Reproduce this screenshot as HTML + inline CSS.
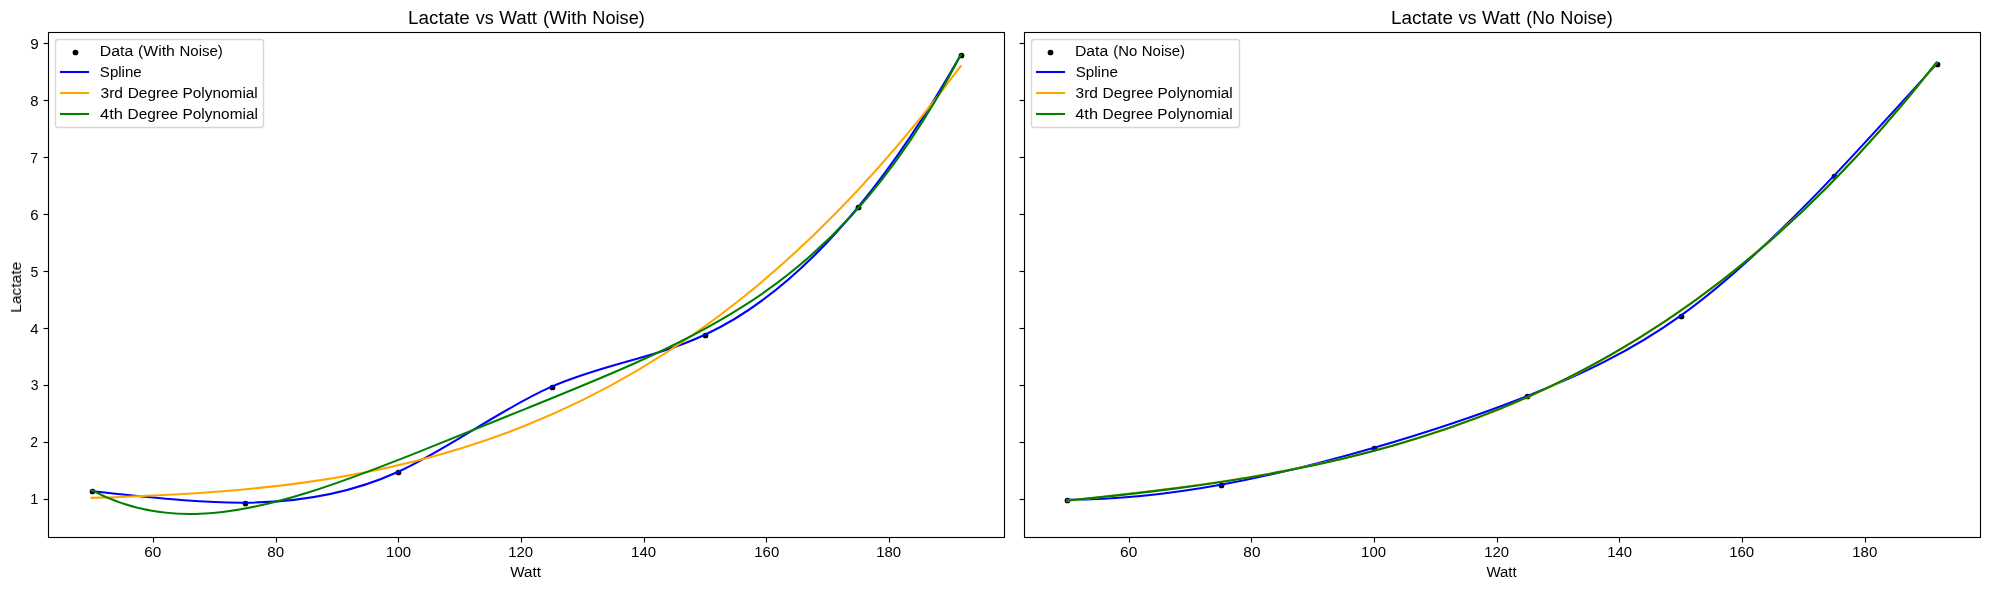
<!DOCTYPE html>
<html lang="en">
<head>
<meta charset="utf-8">
<title>Lactate vs Watt</title>
<style>
html,body{margin:0;padding:0;background:#fff;}
body{width:1990px;height:590px;overflow:hidden;}
svg{display:block;will-change:transform;}
svg text{font-family:"Liberation Sans",sans-serif;fill:#000;white-space:pre;}
svg g.t{filter:grayscale(1);}
</style>
</head>
<body>
<svg width="1990" height="590" viewBox="0 0 1990 590">
<rect width="1990" height="590" fill="#fff"/>
<g>
<g fill="#000">
<circle cx="92.5" cy="491.5" r="2.87"/>
<circle cx="245.5" cy="503.5" r="2.87"/>
<circle cx="398.5" cy="472.5" r="2.87"/>
<circle cx="552.5" cy="387.5" r="2.87"/>
<circle cx="705.5" cy="335.5" r="2.87"/>
<circle cx="858.5" cy="207.5" r="2.87"/>
<circle cx="961.5" cy="55.5" r="2.87"/>
</g>
<g fill="none" stroke-width="2.083" stroke-linecap="square" stroke-linejoin="round">
<path stroke="#0000ff" d="M91.60 491.33C142.72 496.27 193.83 503.02 244.94 502.71C296.05 502.40 347.16 495.03 398.27 471.70C449.38 448.37 500.49 409.09 551.60 386.63C602.71 364.16 653.83 358.49 704.94 334.73C756.05 310.96 807.16 269.09 858.27 207.03C892.41 165.58 926.55 115.12 960.70 55.04"/>
<path stroke="#ffa500" d="M91.60 497.85C381.30 489.79 671.00 456.24 960.70 66.09"/>
<path stroke="#008000" d="M91.60 490.15C127.82 509.57 164.03 515.28 200.24 513.80C236.45 512.31 272.67 503.64 308.88 492.25C345.09 480.86 381.30 466.76 417.51 452.36C453.73 437.96 489.94 423.26 526.15 408.63C562.36 394.00 598.57 379.45 634.79 363.29C671.00 347.12 707.21 329.35 743.42 306.23C779.63 283.11 815.85 254.65 852.06 215.05C888.27 175.46 924.48 124.74 960.70 55.05"/>
</g>
<g stroke="#000" stroke-width="1.111">
<line x1="153.5" y1="537.5" x2="153.5" y2="542.50"/>
<line x1="276.5" y1="537.5" x2="276.5" y2="542.50"/>
<line x1="398.5" y1="537.5" x2="398.5" y2="542.50"/>
<line x1="521.5" y1="537.5" x2="521.5" y2="542.50"/>
<line x1="644.5" y1="537.5" x2="644.5" y2="542.50"/>
<line x1="766.5" y1="537.5" x2="766.5" y2="542.50"/>
<line x1="889.5" y1="537.5" x2="889.5" y2="542.50"/>
<line x1="43.50" y1="43.5" x2="48.5" y2="43.5"/>
<line x1="43.50" y1="100.5" x2="48.5" y2="100.5"/>
<line x1="43.50" y1="157.5" x2="48.5" y2="157.5"/>
<line x1="43.50" y1="214.5" x2="48.5" y2="214.5"/>
<line x1="43.50" y1="271.5" x2="48.5" y2="271.5"/>
<line x1="43.50" y1="328.5" x2="48.5" y2="328.5"/>
<line x1="43.50" y1="385.5" x2="48.5" y2="385.5"/>
<line x1="43.50" y1="442.5" x2="48.5" y2="442.5"/>
<line x1="43.50" y1="499.5" x2="48.5" y2="499.5"/>
</g>
<rect x="48.5" y="32.5" width="956.0" height="505.0" fill="none" stroke="#000" stroke-width="1.111"/>
<g class="t">
<text font-size="14.70" x="144.29" y="557.00" textLength="17.07" lengthAdjust="spacingAndGlyphs">60</text>
<text font-size="14.70" x="267.34" y="557.00" textLength="16.87" lengthAdjust="spacingAndGlyphs">80</text>
<text font-size="14.70" x="386.12" y="557.00" textLength="24.96" lengthAdjust="spacingAndGlyphs">100</text>
<text font-size="14.70" x="508.22" y="557.00" textLength="24.89" lengthAdjust="spacingAndGlyphs">120</text>
<text font-size="14.70" x="631.11" y="557.00" textLength="25.01" lengthAdjust="spacingAndGlyphs">140</text>
<text font-size="14.70" x="754.29" y="557.00" textLength="24.98" lengthAdjust="spacingAndGlyphs">160</text>
<text font-size="14.70" x="876.20" y="557.00" textLength="24.93" lengthAdjust="spacingAndGlyphs">180</text>
<text font-size="14.70" x="30.23" y="48.55" textLength="8.47" lengthAdjust="spacingAndGlyphs">9</text>
<text font-size="14.70" x="30.37" y="105.55" textLength="8.22" lengthAdjust="spacingAndGlyphs">8</text>
<text font-size="14.70" x="30.31" y="162.55" textLength="7.83" lengthAdjust="spacingAndGlyphs">7</text>
<text font-size="14.70" x="30.31" y="219.55" textLength="8.35" lengthAdjust="spacingAndGlyphs">6</text>
<text font-size="14.70" x="30.56" y="276.55" textLength="7.82" lengthAdjust="spacingAndGlyphs">5</text>
<text font-size="14.70" x="30.22" y="333.55" textLength="8.35" lengthAdjust="spacingAndGlyphs">4</text>
<text font-size="14.70" x="30.66" y="389.55" textLength="7.80" lengthAdjust="spacingAndGlyphs">3</text>
<text font-size="14.70" x="30.32" y="446.55" textLength="7.80" lengthAdjust="spacingAndGlyphs">2</text>
<text font-size="14.70" x="30.33" y="503.55" textLength="8.05" lengthAdjust="spacingAndGlyphs">1</text>
<text font-size="17.65" y="24.00"><tspan x="408.10" textLength="61.75" lengthAdjust="spacingAndGlyphs">Lactate</tspan> <tspan x="475.65" textLength="18.00" lengthAdjust="spacingAndGlyphs">vs</tspan> <tspan x="499.22" textLength="37.85" lengthAdjust="spacingAndGlyphs">Watt</tspan> <tspan x="543.04" textLength="43.83" lengthAdjust="spacingAndGlyphs">(With</tspan> <tspan x="592.26" textLength="52.57" lengthAdjust="spacingAndGlyphs">Noise)</tspan></text>
<text font-size="14.70" x="510.28" y="577.00" textLength="30.68" lengthAdjust="spacingAndGlyphs">Watt</text>
<text font-size="14.70" transform="translate(21.00 310.59) rotate(-90)" x="-2.28" y="0.00" textLength="51.22" lengthAdjust="spacingAndGlyphs">Lactate</text>
</g>
<rect x="55.5" y="39.5" width="208" height="88" rx="2.78" fill="#fff" fill-opacity=".8" stroke="#ccc" stroke-opacity=".8" stroke-width="1.389"/>
<circle cx="75.5" cy="52.5" r="2.87" fill="#000"/>
<g fill="none" stroke-width="2.083">
<line x1="59.96" y1="72.00" x2="89.04" y2="72.00" stroke="#0000ff"/>
<line x1="59.96" y1="93.00" x2="89.04" y2="93.00" stroke="#ffa500"/>
<line x1="59.96" y1="114.00" x2="89.04" y2="114.00" stroke="#008000"/>
</g>
<g class="t">
<text font-size="14.70" y="56.00"><tspan x="99.84" textLength="33.49" lengthAdjust="spacingAndGlyphs">Data</tspan> <tspan x="138.12" textLength="36.78" lengthAdjust="spacingAndGlyphs">(With</tspan> <tspan x="179.47" textLength="43.42" lengthAdjust="spacingAndGlyphs">Noise)</tspan></text>
<text font-size="14.70" x="99.87" y="77.00" textLength="41.85" lengthAdjust="spacingAndGlyphs">Spline</text>
<text font-size="14.70" y="98.00"><tspan x="100.51" textLength="22.47" lengthAdjust="spacingAndGlyphs">3rd</tspan> <tspan x="127.71" textLength="50.52" lengthAdjust="spacingAndGlyphs">Degree</tspan> <tspan x="182.50" textLength="75.28" lengthAdjust="spacingAndGlyphs">Polynomial</tspan></text>
<text font-size="14.70" y="119.00"><tspan x="100.13" textLength="22.92" lengthAdjust="spacingAndGlyphs">4th</tspan> <tspan x="127.54" textLength="50.53" lengthAdjust="spacingAndGlyphs">Degree</tspan> <tspan x="182.52" textLength="75.37" lengthAdjust="spacingAndGlyphs">Polynomial</tspan></text>
</g>
</g>
<g>
<g fill="#000">
<circle cx="1067.5" cy="500.5" r="2.87"/>
<circle cx="1221.5" cy="485.5" r="2.87"/>
<circle cx="1374.5" cy="448.5" r="2.87"/>
<circle cx="1527.5" cy="396.5" r="2.87"/>
<circle cx="1681.5" cy="316.5" r="2.87"/>
<circle cx="1834.5" cy="176.5" r="2.87"/>
<circle cx="1937.5" cy="64.5" r="2.87"/>
</g>
<g fill="none" stroke-width="2.083" stroke-linecap="square" stroke-linejoin="round">
<path stroke="#0000ff" d="M1067.46 499.81C1118.57 499.59 1169.68 493.97 1220.80 484.70C1271.91 475.43 1323.02 462.51 1374.13 447.69C1425.24 432.86 1476.35 416.13 1527.46 395.96C1578.57 375.78 1629.68 352.16 1680.79 315.61C1731.90 279.05 1783.01 229.56 1834.12 175.62C1868.26 139.58 1902.40 101.56 1936.55 64.08"/>
<path stroke="#ffa500" d="M1067.46 500.64C1357.16 469.27 1646.85 431.55 1936.55 62.65"/>
<path stroke="#008000" d="M1067.46 500.49C1103.68 496.97 1139.89 493.09 1176.10 488.36C1212.31 483.62 1248.52 478.03 1284.73 471.06C1320.95 464.08 1357.16 455.71 1393.37 445.38C1429.58 435.05 1465.79 422.76 1502.01 407.89C1538.22 393.03 1574.43 375.58 1610.64 354.91C1646.85 334.23 1683.06 310.32 1719.28 282.49C1755.49 254.65 1791.70 222.89 1827.91 186.47C1864.12 150.05 1900.33 108.96 1936.55 62.43"/>
</g>
<g stroke="#000" stroke-width="1.111">
<line x1="1129.5" y1="537.5" x2="1129.5" y2="542.50"/>
<line x1="1251.5" y1="537.5" x2="1251.5" y2="542.50"/>
<line x1="1374.5" y1="537.5" x2="1374.5" y2="542.50"/>
<line x1="1497.5" y1="537.5" x2="1497.5" y2="542.50"/>
<line x1="1619.5" y1="537.5" x2="1619.5" y2="542.50"/>
<line x1="1742.5" y1="537.5" x2="1742.5" y2="542.50"/>
<line x1="1865.5" y1="537.5" x2="1865.5" y2="542.50"/>
<line x1="1019.50" y1="43.5" x2="1024.5" y2="43.5"/>
<line x1="1019.50" y1="100.5" x2="1024.5" y2="100.5"/>
<line x1="1019.50" y1="157.5" x2="1024.5" y2="157.5"/>
<line x1="1019.50" y1="214.5" x2="1024.5" y2="214.5"/>
<line x1="1019.50" y1="271.5" x2="1024.5" y2="271.5"/>
<line x1="1019.50" y1="328.5" x2="1024.5" y2="328.5"/>
<line x1="1019.50" y1="385.5" x2="1024.5" y2="385.5"/>
<line x1="1019.50" y1="442.5" x2="1024.5" y2="442.5"/>
<line x1="1019.50" y1="499.5" x2="1024.5" y2="499.5"/>
</g>
<rect x="1024.5" y="32.5" width="956.0" height="505.0" fill="none" stroke="#000" stroke-width="1.111"/>
<g class="t">
<text font-size="14.70" x="1120.13" y="557.00" textLength="17.29" lengthAdjust="spacingAndGlyphs">60</text>
<text font-size="14.70" x="1243.33" y="557.00" textLength="17.11" lengthAdjust="spacingAndGlyphs">80</text>
<text font-size="14.70" x="1361.12" y="557.00" textLength="25.00" lengthAdjust="spacingAndGlyphs">100</text>
<text font-size="14.70" x="1484.27" y="557.00" textLength="24.81" lengthAdjust="spacingAndGlyphs">120</text>
<text font-size="14.70" x="1607.28" y="557.00" textLength="24.79" lengthAdjust="spacingAndGlyphs">140</text>
<text font-size="14.70" x="1729.17" y="557.00" textLength="25.05" lengthAdjust="spacingAndGlyphs">160</text>
<text font-size="14.70" x="1852.24" y="557.00" textLength="25.06" lengthAdjust="spacingAndGlyphs">180</text>
<text font-size="17.65" y="24.00"><tspan x="1391.04" textLength="61.97" lengthAdjust="spacingAndGlyphs">Lactate</tspan> <tspan x="1458.60" textLength="18.00" lengthAdjust="spacingAndGlyphs">vs</tspan> <tspan x="1482.13" textLength="37.99" lengthAdjust="spacingAndGlyphs">Watt</tspan> <tspan x="1526.33" textLength="28.40" lengthAdjust="spacingAndGlyphs">(No</tspan> <tspan x="1560.29" textLength="52.42" lengthAdjust="spacingAndGlyphs">Noise)</tspan></text>
<text font-size="14.70" x="1486.43" y="577.00" textLength="30.23" lengthAdjust="spacingAndGlyphs">Watt</text>
</g>
<rect x="1031.5" y="39.5" width="208" height="88" rx="2.78" fill="#fff" fill-opacity=".8" stroke="#ccc" stroke-opacity=".8" stroke-width="1.389"/>
<circle cx="1050.5" cy="52.5" r="2.87" fill="#000"/>
<g fill="none" stroke-width="2.083">
<line x1="1035.96" y1="72.00" x2="1065.04" y2="72.00" stroke="#0000ff"/>
<line x1="1035.96" y1="93.00" x2="1065.04" y2="93.00" stroke="#ffa500"/>
<line x1="1035.96" y1="114.00" x2="1065.04" y2="114.00" stroke="#008000"/>
</g>
<g class="t">
<text font-size="14.70" y="56.00"><tspan x="1074.91" textLength="33.34" lengthAdjust="spacingAndGlyphs">Data</tspan> <tspan x="1113.19" textLength="24.00" lengthAdjust="spacingAndGlyphs">(No</tspan> <tspan x="1141.75" textLength="43.29" lengthAdjust="spacingAndGlyphs">Noise)</tspan></text>
<text font-size="14.70" x="1075.68" y="77.00" textLength="42.19" lengthAdjust="spacingAndGlyphs">Spline</text>
<text font-size="14.70" y="98.00"><tspan x="1075.59" textLength="22.39" lengthAdjust="spacingAndGlyphs">3rd</tspan> <tspan x="1102.56" textLength="50.86" lengthAdjust="spacingAndGlyphs">Degree</tspan> <tspan x="1157.61" textLength="75.17" lengthAdjust="spacingAndGlyphs">Polynomial</tspan></text>
<text font-size="14.70" y="119.00"><tspan x="1075.28" textLength="22.74" lengthAdjust="spacingAndGlyphs">4th</tspan> <tspan x="1102.61" textLength="50.51" lengthAdjust="spacingAndGlyphs">Degree</tspan> <tspan x="1157.38" textLength="75.36" lengthAdjust="spacingAndGlyphs">Polynomial</tspan></text>
</g>
</g>
</svg>
</body>
</html>
